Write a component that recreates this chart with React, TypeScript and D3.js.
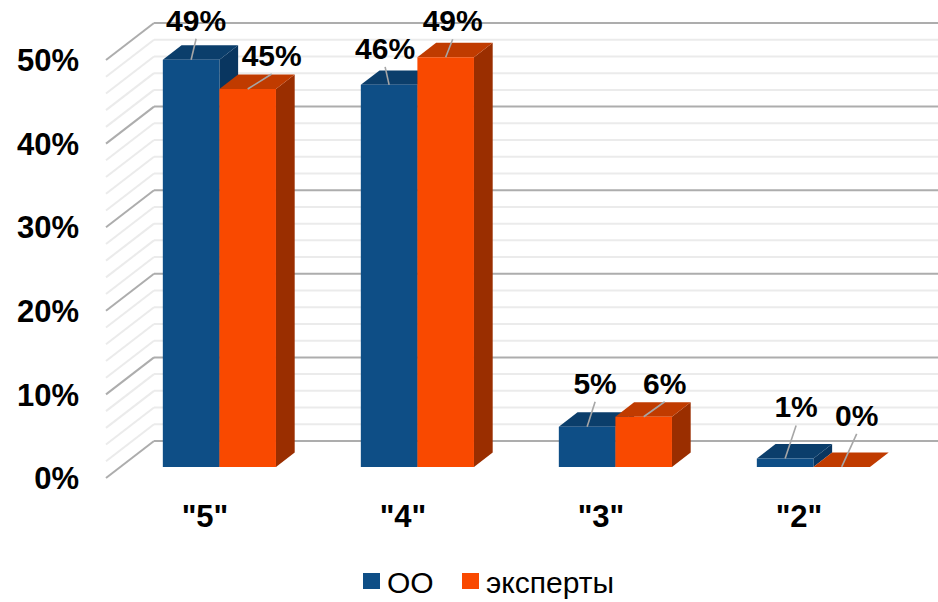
import React from "react";
import * as d3 from "d3";

const categories = ['"5"', '"4"', '"3"', '"2"'];
const seriesNames = ["ОО", "эксперты"];
const ooValues = [48.7, 45.7, 4.8, 1.0];
const expertValues = [45.2, 49.0, 6.0, 0.0];
const ooLabels = ["49%", "46%", "5%", "1%"];
const expertLabels = ["45%", "49%", "6%", "0%"];
const yTicks = [0, 10, 20, 30, 40, 50];
const yTickLabels = ["0%", "10%", "20%", "30%", "40%", "50%"];

// label nudges relative to the bar's front-top centre (layout, not data)
const labelNudge = [
  [[5, -40], [24, -34]],
  [[-4, -37], [7, -37]],
  [[8, -44], [21, -34]],
  [[11, -52], [15, -52]],
];

const W = 938;
const H = 602;
const FONT = "'Liberation Sans', Arial, sans-serif";
const DEPTH = [48, -37];
const F1 = 0.3;
const F2 = 0.69;

const colors = [
  { front: "#0E4E86", top: "#0B3E6B", side: "#093660" },
  { front: "#F94900", top: "#C03B00", side: "#9A2E00" },
];

export default function App() {
  const y = d3.scaleLinear().domain([0, 50]).range([478, 60]);
  const x = d3.scaleBand().domain(categories).range([106, 898]).paddingInner(0);
  const xs = d3
    .scaleBand()
    .domain(seriesNames)
    .range([0, x.bandwidth()])
    .paddingInner(0)
    .paddingOuter(0.75);

  const proj = (xf: number, v: number, f: number): [number, number] => [
    xf + f * DEPTH[0],
    y(v) + f * DEPTH[1],
  ];

  const pts = (arr: [number, number][]) => arr.map((p) => p.join(",")).join(" ");

  const gridVals = d3.range(0, 51, 2);
  const x0 = x.range()[0];

  const series = [ooValues, expertValues];
  const labels = [ooLabels, expertLabels];

  return (
    <div style={{ position: "fixed", left: 0, top: 0 }}>
      <svg width={W} height={H} style={{ display: "block", background: "#fff" }}>
        {[false, true].map((majorPass) =>
          gridVals
            .filter((v) => (v % 10 === 0) === majorPass)
            .map((v) => {
              const a = proj(x0, v, 0);
              const b = proj(x0, v, 1);
              const stroke = majorPass ? "#ADADAD" : "#EBEBEB";
              return (
                <g key={`g${v}`}>
                  <line x1={a[0]} y1={a[1]} x2={b[0]} y2={b[1]} stroke={stroke} strokeWidth={2} />
                  <line x1={b[0]} y1={b[1]} x2={W} y2={b[1]} stroke={stroke} strokeWidth={2} />
                </g>
              );
            })
        )}

        {yTicks.map((t, i) => (
          <text
            key={`yt${t}`}
            x={79}
            y={y(t)}
            dy="0.36em"
            textAnchor="end"
            fontFamily={FONT}
            fontWeight="bold"
            fontSize={31}
            fill="#000"
          >
            {yTickLabels[i]}
          </text>
        ))}

        {categories.map((c, ci) => (
          <g key={`c${ci}`}>
            {seriesNames.map((s, si) => {
              const v = series[si][ci];
              const xl = (x(c) as number) + (xs(s) as number);
              const xr = xl + xs.bandwidth();
              const col = colors[si];
              const fbl = proj(xl, 0, F1);
              const fbr = proj(xr, 0, F1);
              const ftl = proj(xl, v, F1);
              const ftr = proj(xr, v, F1);
              const btl = proj(xl, v, F2);
              const btr = proj(xr, v, F2);
              const bbr = proj(xr, 0, F2);
              return (
                <g key={`b${si}`}>
                  <polygon points={pts([fbr, ftr, btr, bbr])} fill={col.side} />
                  <polygon points={pts([ftl, ftr, btr, btl])} fill={col.top} />
                  {v > 0 && <polygon points={pts([fbl, fbr, ftr, ftl])} fill={col.front} />}
                </g>
              );
            })}
          </g>
        ))}

        {categories.map((c, ci) =>
          seriesNames.map((s, si) => {
            const v = series[si][ci];
            const xl = (x(c) as number) + (xs(s) as number);
            const xc = xl + xs.bandwidth() / 2;
            const top = proj(xc, v, F1);
            const [nx, ny] = labelNudge[ci][si];
            const lx = top[0] + nx;
            const ly = top[1] + ny;
            return (
              <g key={`l${ci}-${si}`}>
                <line
                  x1={lx}
                  y1={ly + 19}
                  x2={top[0]}
                  y2={top[1]}
                  stroke="#A6A6A6"
                  strokeWidth={1.6}
                />
                <text
                  x={lx}
                  y={ly}
                  dy="0.36em"
                  textAnchor="middle"
                  fontFamily={FONT}
                  fontWeight="bold"
                  fontSize={30}
                  fill="#000"
                >
                  {labels[si][ci]}
                </text>
              </g>
            );
          })
        )}

        {categories.map((c) => (
          <text
            key={`cat${c}`}
            x={(x(c) as number) + x.bandwidth() / 2}
            y={527}
            textAnchor="middle"
            fontFamily={FONT}
            fontWeight="bold"
            fontSize={31}
            fill="#000"
          >
            {c}
          </text>
        ))}

        <g>
          <rect x={363} y={573} width={17} height={16} fill={colors[0].front} />
          <text x={387} y={593} fontFamily={FONT} fontSize={30} fill="#000">
            {seriesNames[0]}
          </text>
          <rect x={462} y={573} width={17} height={16} fill={colors[1].front} />
          <text x={486} y={593} fontFamily={FONT} fontSize={30} fill="#000">
            {seriesNames[1]}
          </text>
        </g>
      </svg>
    </div>
  );
}
